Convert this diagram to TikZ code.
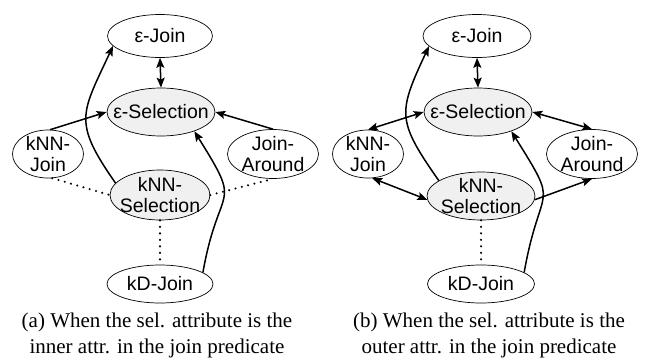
\documentclass[tikz,border=0pt]{standalone}
\usepackage{fontspec}
\setmainfont{Liberation Serif}
\setsansfont{Liberation Sans}
\usetikzlibrary{shapes.geometric,arrows.meta}

\begin{document}
\begin{tikzpicture}[x=1pt,y=1pt]
    \tikzstyle{every node}+=[inner sep=-16pt, align=center, font=\sffamily\fontsize{19.5}{20.5}\selectfont]
    \tikzstyle{algo}=[draw, ellipse, line width=0.7pt]
    \tikzstyle{algosel}=[algo, fill=gray!12]
    \tikzstyle{link}=[line width=1.5pt, -{Stealth[length=10pt,width=8pt,inset=2pt]}]
    \tikzstyle{twoway}=[line width=1.5pt, {Stealth[length=10pt,width=8pt,inset=2pt]}-{Stealth[length=10pt,width=8pt,inset=2pt]}]
    \tikzstyle{weak}=[line width=2.3pt, dash pattern=on 0pt off 6.5pt, line cap=round]
    \tikzstyle{caption}=[inner sep=0pt, font=\rmfamily\fontsize{21}{26}\selectfont]
    \useasboundingbox (0,0) rectangle (645,-362);

    % (a) inner attribute
    \node [algo, minimum width=105pt, minimum height=43pt] (a-ej) at (160,-36) {ε-Join};
    \node [algosel, minimum width=108pt, minimum height=48pt] (a-es) at (161,-112) {ε-Selection};
    \node [algo, minimum width=71pt, minimum height=48pt] (a-kj) at (48,-154) {kNN-\\Join};
    \node [algo, minimum width=91pt, minimum height=49pt] (a-ja) at (273,-154) {Join-\\Around};
    \node [algosel, minimum width=100pt, minimum height=50pt] (a-ks) at (160,-195) {kNN-\\Selection};
    \node [algo, minimum width=106pt, minimum height=38pt] (a-kd) at (160,-284) {kD-Join};
    \draw [twoway] (a-ej.south) -- (a-es.north);
    \draw [link] (a-kj.85) -- (a-es.west);
    \draw [link] (a-ja.north) -- (a-es.east);
    \draw [link] (a-ks.165) to[out=125,in=245,looseness=1.4] (a-ej.192);
    \draw [link] (a-kd.15) to[out=80,in=-58,looseness=1.7] (a-es.-30);
    \draw [weak] (a-kj.-80) -- (a-ks.west);
    \draw [weak] (a-ks.east) -- (a-ja.south);
    \draw [weak] (a-ks.south) -- (a-kd.north);
    \node [caption] (a-cap) at (157,-335) {(a) When the sel. attribute is the\\inner attr. in the join predicate};

    % (b) outer attribute
    \node [algo, minimum width=108pt, minimum height=43pt] (b-ej) at (477,-36) {ε-Join};
    \node [algosel, minimum width=108pt, minimum height=48pt] (b-es) at (478,-112) {ε-Selection};
    \node [algo, minimum width=71pt, minimum height=48pt] (b-kj) at (368,-154) {kNN-\\Join};
    \node [algo, minimum width=91pt, minimum height=49pt] (b-ja) at (592,-154) {Join-\\Around};
    \node [algosel, minimum width=108pt, minimum height=48pt] (b-ks) at (481,-196) {kNN-\\Selection};
    \node [algo, minimum width=107pt, minimum height=38pt] (b-kd) at (481,-284) {kD-Join};
    \draw [twoway] (b-ej.south) -- (b-es.north);
    \draw [twoway] (b-kj.north) -- (b-es.west);
    \draw [twoway] (b-es.east) -- (b-ja.north);
    \draw [twoway] (b-kj.-80) -- (b-ks.184);
    \draw [link] (b-ks.-4) -- (b-ja.south);
    \draw [link] (b-ks.160) to[out=125,in=245,looseness=1.4] (b-ej.192);
    \draw [link] (b-kd.15) to[out=80,in=-58,looseness=1.7] (b-es.-30);
    \draw [weak] (b-ks.south) -- (b-kd.north);
    \node [caption] (b-cap) at (489,-335) {(b) When the sel. attribute is the\\outer attr. in the join predicate};
\end{tikzpicture}
\end{document}
